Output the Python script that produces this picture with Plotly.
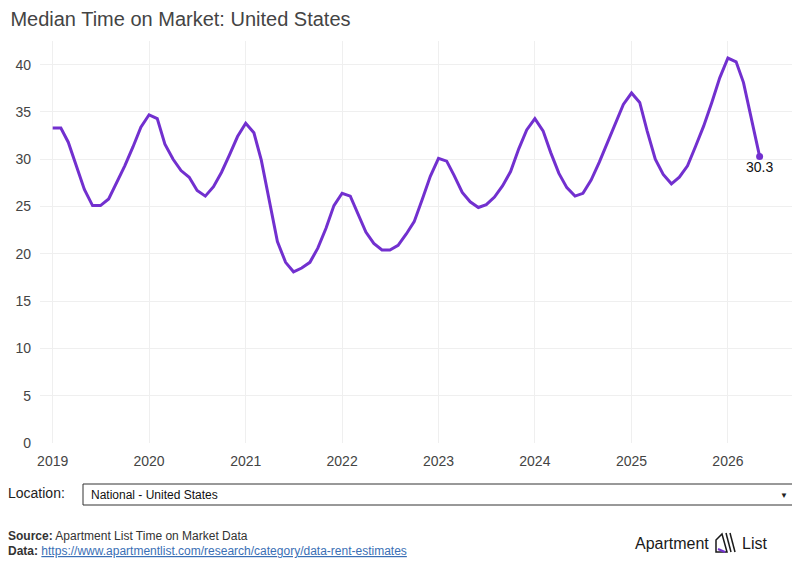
import plotly.graph_objects as go

# monthly median days on market, Jan 2019 .. May 2026
months = ["%d-%02d-01" % (2019 + i // 12, i % 12 + 1) for i in range(89)]
tom_2019 = [33.3, 33.3, 31.8, 29.2, 26.8, 25.1, 25.1, 25.8, 27.6, 29.3, 31.3, 33.4]
tom_2020 = [34.7, 34.3, 31.6, 30.0, 28.8, 28.1, 26.7, 26.1, 27.1, 28.6, 30.5, 32.4]
tom_2021 = [33.8, 32.8, 29.9, 25.4, 21.3, 19.1, 18.1, 18.5, 19.1, 20.6, 22.7, 25.1]
tom_2022 = [26.4, 26.1, 24.3, 22.3, 21.1, 20.4, 20.4, 20.9, 22.1, 23.4, 25.8, 28.2]
tom_2023 = [30.1, 29.8, 28.3, 26.5, 25.5, 24.9, 25.2, 26.0, 27.2, 28.7, 31.1, 33.1]
tom_2024 = [34.3, 33.0, 30.7, 28.5, 27.0, 26.1, 26.4, 27.8, 29.7, 31.7, 33.7, 35.8]
tom_2025 = [37.0, 36.0, 33.0, 30.0, 28.4, 27.4, 28.1, 29.3, 31.4, 33.5, 36.0, 38.6]
tom_2026 = [40.7, 40.3, 38.1, 34.2, 30.3]
tom = tom_2019 + tom_2020 + tom_2021 + tom_2022 + tom_2023 + tom_2024 + tom_2025 + tom_2026

y_ticks = [0, 5, 10, 15, 20, 25, 30, 35, 40]

FONT = "Liberation Sans, Arial, Helvetica, sans-serif"
PURPLE = "#7230CF"

# page body has an 8px margin, so the figure is 792x554 and
# these helpers take screenshot pixels (plot area 40..795 x 41..443)
def px(x):
    return (x - 40) / 755.0

def py(y):
    return (443 - y) / 402.0

line = go.Scatter(x=months, y=tom, mode="lines",
                  line=dict(color=PURPLE, width=3),
                  hovertemplate="%{x|%b %Y}: %{y}<extra></extra>")

last = go.Scatter(x=[months[-1]], y=[tom[-1]], mode="markers+text",
                  marker=dict(color=PURPLE, size=7),
                  text=["%.1f" % tom[-1]], textposition="bottom center",
                  textfont=dict(size=14, color="#111", family=FONT),
                  hoverinfo="skip")

fig = go.Figure(data=[line, last])

annots = [
    dict(text="Location:", x=px(6), y=py(493), xanchor="left", yanchor="middle",
         font=dict(size=14, color="#222")),
    dict(text="National - United States", x=px(89), y=py(495), xanchor="left", yanchor="middle",
         font=dict(size=12, color="#111")),
    dict(text="▼", x=px(784), y=py(495), xanchor="center", yanchor="middle",
         font=dict(size=8, color="#222")),
    dict(text="<b>Source:</b> Apartment List Time on Market Data", x=px(6), y=py(536),
         xanchor="left", yanchor="middle", font=dict(size=12, color="#333")),
    dict(text="<b>Data:</b> <a href='https://www.apartmentlist.com/research/category/data-rent-estimates'"
              " style='color:#3a6fb5'><u>https://www.apartmentlist.com/research/category/data-rent-estimates</u></a>",
         x=px(6), y=py(551), xanchor="left", yanchor="middle", font=dict(size=12, color="#333")),
    dict(text="Apartment", x=px(711), y=py(543), xanchor="right", yanchor="middle",
         font=dict(size=16, color="#1a1a1a")),
    dict(text="List", x=px(740), y=py(543), xanchor="left", yanchor="middle",
         font=dict(size=16, color="#1a1a1a")),
]
for a in annots:
    a.update(xref="paper", yref="paper", showarrow=False)
    a["font"]["family"] = FONT

shapes = [
    # location dropdown box
    dict(type="rect", xref="paper", yref="paper", x0=px(83), x1=px(793), y0=py(484), y1=py(505),
         line=dict(color="#333", width=1), fillcolor="white"),
    # logo mark
    dict(type="path", xref="paper", yref="paper",
         path="M %f %f L %f %f L %f %f L %f %f Z" % (px(716), py(552), px(716), py(540), px(722), py(534), px(727), py(552)),
         line=dict(color="#1a1a1a", width=1.5)),
    dict(type="line", xref="paper", yref="paper", x0=px(726), y0=py(533), x1=px(731), y1=py(552),
         line=dict(color="#1a1a1a", width=1.5)),
    dict(type="line", xref="paper", yref="paper", x0=px(730), y0=py(533), x1=px(735), y1=py(552),
         line=dict(color="#1a1a1a", width=1.5)),
    dict(type="line", xref="paper", yref="paper", x0=px(718), y0=py(549), x1=px(725), y1=py(552),
         line=dict(color=PURPLE, width=2)),
]

fig.update_layout(
    width=792, height=554,
    margin=dict(l=32, r=5, t=33, b=119),
    paper_bgcolor="white", plot_bgcolor="white",
    font=dict(family=FONT, color="#444"),
    showlegend=False,
    title=dict(text="Median Time on Market: United States", x=0.003, xanchor="left",
               y=0.980, yanchor="middle", font=dict(size=20, color="#444")),
    xaxis=dict(type="date", range=["2018-11-14", "2026-09-12"], dtick="M12", tick0="2019-01-01",
               tickformat="%Y", showgrid=True, gridcolor="#efefef", gridwidth=1,
               zeroline=False, showline=False, ticks="", ticklabelstandoff=8,
               tickfont=dict(size=14, color="#444")),
    yaxis=dict(range=[0, 42.5], tickvals=y_ticks, showgrid=True, gridcolor="#efefef", gridwidth=1,
               zeroline=False, showline=False, ticks="", ticklabelstandoff=8,
               tickfont=dict(size=14, color="#444")),
    annotations=annots,
    shapes=shapes,
)

fig.write_html("out.html")
